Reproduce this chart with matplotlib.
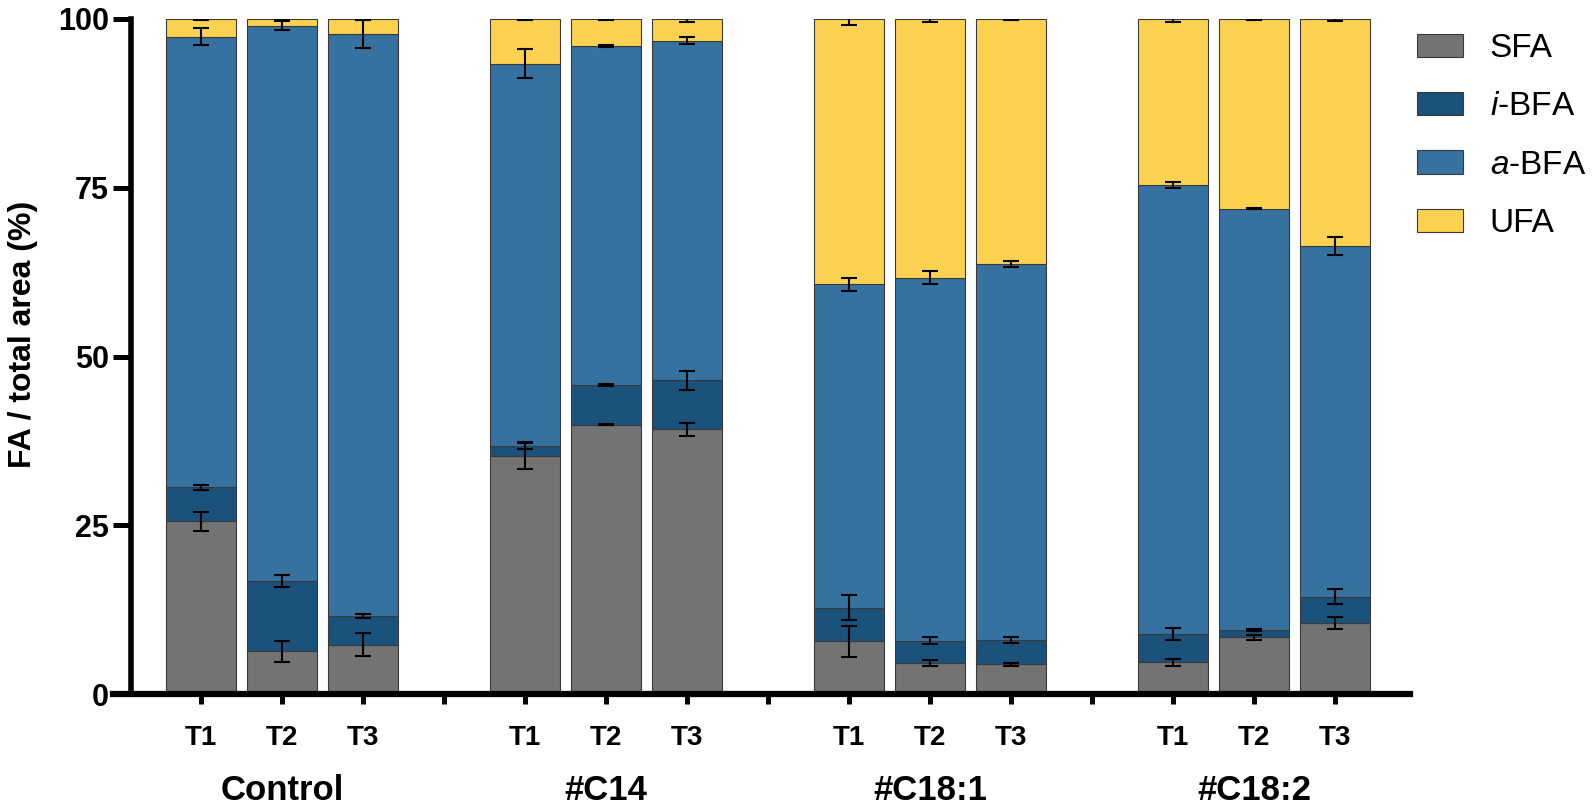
import matplotlib
matplotlib.use("Agg")
import matplotlib.pyplot as plt
import matplotlib.transforms as mtrans
import numpy as np

plt.rcParams['font.family'] = ['Liberation Sans', 'DejaVu Sans']
plt.rcParams['mathtext.fontset'] = 'custom'
plt.rcParams['mathtext.rm'] = 'Liberation Sans'
plt.rcParams['mathtext.it'] = 'Liberation Sans:italic'

# data (% of total area), one value per bar
groups = ['Control', '#C14', '#C18:1', '#C18:2']
times = ['T1', 'T2', 'T3']
series = ['SFA', r'$\mathit{i}$-BFA', r'$\mathit{a}$-BFA', 'UFA']
yticks = [0, 25, 50, 75, 100]

sfa = [25.6, 6.3, 7.3, 35.3, 39.9, 39.2, 7.8, 4.6, 4.4, 4.7, 8.4, 10.5]
ibfa = [5.0, 10.4, 4.2, 1.5, 5.9, 7.3, 5.0, 3.3, 3.6, 4.2, 1.1, 3.9]
abfa = [66.8, 82.3, 86.3, 56.6, 50.2, 50.3, 47.9, 53.8, 55.7, 66.5, 62.4, 52.0]
ufa = [2.6, 1.0, 2.2, 6.6, 4.0, 3.2, 39.3, 38.3, 36.3, 24.6, 28.1, 33.6]

sfa_sd = [1.4, 1.5, 1.7, 1.9, 0.1, 1.0, 2.3, 0.5, 0.2, 0.5, 0.35, 0.85]
ibfa_sd = [0.4, 0.9, 0.3, 0.5, 0.1, 1.4, 1.8, 0.5, 0.5, 0.85, 0.15, 1.1]
abfa_sd = [1.2, 0.7, 2.1, 2.2, 0.1, 0.5, 1.0, 0.9, 0.4, 0.45, 0.1, 1.3]
ufa_sd = [0.2, 0.15, 0.1, 0.1, 0.1, 0.5, 0.9, 0.4, 0.1, 0.4, 0.15, 0.35]

colors = ['#737373', '#1a527c', '#3572a0', '#fcd250']

W, H = 1595, 810
fig = plt.figure(figsize=(W / 100, H / 100), dpi=100)
ax = fig.add_axes([113 / W, (H - 694) / H, (1410 - 113) / W, (694 - 19) / H])

# spines first: moving a spine resets the tick objects
for s in ['top', 'right']:
    ax.spines[s].set_visible(False)
ax.spines['left'].set_position(('data', (131 - 201) / 81))
ax.spines['left'].set_linewidth(4)
ax.spines['bottom'].set_linewidth(4.5)
ax.spines['left'].set_zorder(4)
ax.spines['bottom'].set_zorder(4)

# bar positions: 3 bars per group + one empty slot between groups
pos = np.array([g * 4 + t for g in range(len(groups)) for t in range(len(times))])

vals = [np.array(sfa), np.array(ibfa), np.array(abfa), np.array(ufa)]
sds = [sfa_sd, ibfa_sd, abfa_sd, ufa_sd]
bottom = np.zeros(len(pos))
tops = []
for v, c, lab in zip(vals, colors, series):
    ax.bar(pos, v, width=0.865, bottom=bottom, color=c, edgecolor='#3a3a3a',
           linewidth=0.8, label=lab, zorder=2)
    bottom = bottom + v
    tops.append(bottom.copy())

for t, e in zip(tops, sds):
    ax.errorbar(pos, t, yerr=e, fmt='none', ecolor='black', elinewidth=1.5,
                capsize=6, capthick=1.5, zorder=3)

ax.set_xlim((113 - 201) / 81, (1410 - 201) / 81)
ax.set_ylim(0, 100)
ax.set_yticks(yticks, labels=[str(v) for v in yticks], fontsize=22,
              fontweight='bold')

ticks = np.arange(0, 15)
labels = []
for i in ticks:
    labels.append(times[i % 4] if i % 4 < 3 else '')
ax.set_xticks(ticks, labels=labels, fontsize=20, fontweight='bold')

ax.tick_params(axis='y', length=13, width=3.6, pad=3, labelsize=22)
ax.tick_params(axis='x', length=7, width=3.6, pad=15, labelsize=20)

trans = mtrans.blended_transform_factory(ax.transData, fig.transFigure)
for g, name in enumerate(groups):
    ax.text(g * 4 + 1, (H - 790) / H, name, transform=trans, ha='center',
            va='center', fontsize=25, fontweight='bold')

fig.text(23 / W, (H - 334) / H, 'FA / total area (%)', rotation=90,
         ha='center', va='center', fontsize=23, fontweight='bold')

fig.legend(loc='upper left', bbox_to_anchor=(1417 / W, (H - 33) / H),
           frameon=False, fontsize=24, handlelength=1.38, handleheight=0.69,
           handletextpad=0.8, labelspacing=0.82, borderpad=0, borderaxespad=0)

fig.savefig('out.png', dpi=100)
